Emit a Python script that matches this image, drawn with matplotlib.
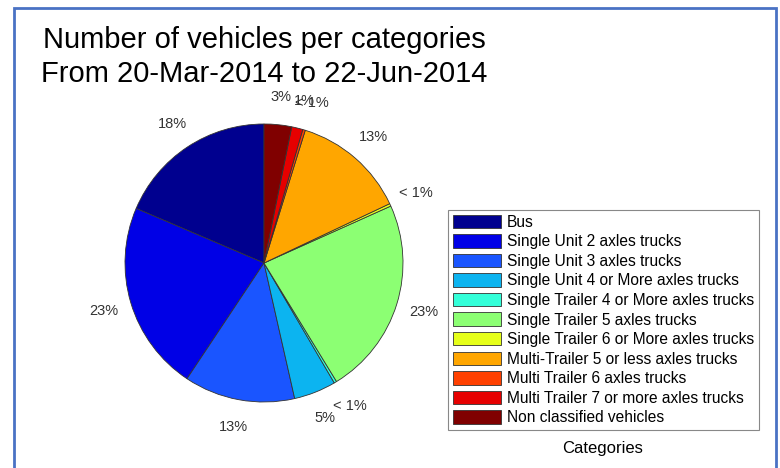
import matplotlib
matplotlib.use("Agg")
import matplotlib.pyplot as plt
from matplotlib.patches import Rectangle

plt.rcParams['font.family'] = ['Liberation Sans', 'DejaVu Sans']

categories = ["Bus", "Single Unit 2 axles trucks", "Single Unit 3 axles trucks",
              "Single Unit 4 or More axles trucks", "Single Trailer 4 or More axles trucks",
              "Single Trailer 5 axles trucks", "Single Trailer 6 or More axles trucks",
              "Multi-Trailer 5 or less axles trucks", "Multi Trailer 6 axles trucks",
              "Multi Trailer 7 or more axles trucks", "Non classified vehicles"]
shares = [18.6, 22.1, 12.9, 4.9, 0.3, 23.0, 0.3, 13.2, 0.3, 1.3, 3.2]
pct_labels = ["18%", "23%", "13%", "5%", "< 1%", "23%", "< 1%", "13%", "< 1%", "1%", "3%"]
colors = ["#00008f", "#0000e6", "#1a55ff", "#0cb4f0", "#33ffd9", "#8cff73",
          "#e6ff1a", "#ffa600", "#ff4000", "#e60000", "#800000"]

W, H = 780, 468
fig = plt.figure(figsize=(W / 100, H / 100), dpi=100)

# blue frame
fig.patches.append(Rectangle((14 / W, -0.05), (776 - 14) / W, 1.05 - 8 / H,
                             transform=fig.transFigure, fill=False,
                             edgecolor="#4a72c4", linewidth=2.0))

cx, cy, r = 264, 263, 139
ax = fig.add_axes([(cx - r) / W, (H - cy - r) / H, 2 * r / W, 2 * r / H])
wedges, texts = ax.pie(shares, colors=colors, labels=pct_labels, startangle=90,
                       counterclock=True, labeldistance=1.2,
                       wedgeprops=dict(edgecolor="#333333", linewidth=0.6),
                       textprops=dict(fontsize=10.5, color="#333333"))
for t in texts:
    t.set_ha('center')
    t.set_va('center')
ax.set_xlim(-1, 1)
ax.set_ylim(-1, 1)
ax.set_aspect('equal')
ax.axis('off')

fig.text(264 / W, 1 - 48 / H, "Number of vehicles per categories",
         ha='center', va='baseline', fontsize=21)
fig.text(264 / W, 1 - 82 / H, "From 20-Mar-2014 to 22-Jun-2014",
         ha='center', va='baseline', fontsize=21)

leg = fig.legend(wedges, categories, loc='upper left',
                 bbox_to_anchor=(448 / W, 1 - 210 / H), borderaxespad=0,
                 fontsize=11.2, handlelength=3.1, handleheight=0.95,
                 labelspacing=0.29, handletextpad=0.4, borderpad=0.3,
                 fancybox=False, edgecolor="#888888", framealpha=1)
leg.get_frame().set_linewidth(0.8)

fig.text(603 / W, 1 - 449 / H, "Categories", ha='center', va='center', fontsize=12)

fig.savefig("out.png", dpi=100)
